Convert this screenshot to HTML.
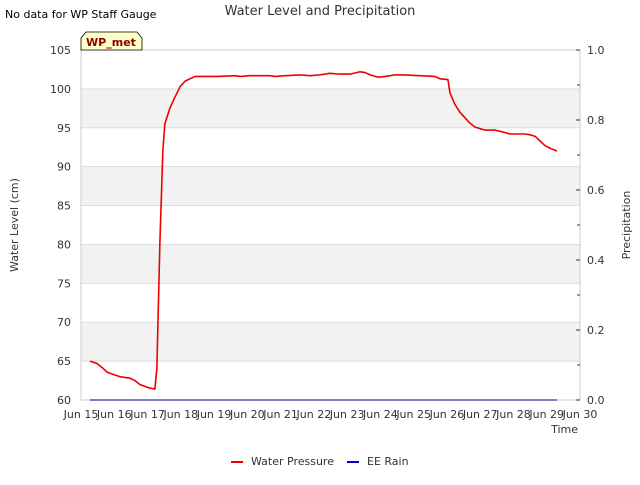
<!DOCTYPE html>
<html><head><meta charset="utf-8"><style>
body{margin:0;background:#fff;font-family:"Liberation Sans","DejaVu Sans",sans-serif}
</style></head><body>
<svg id="c" width="640" height="480" xmlns="http://www.w3.org/2000/svg" font-family="DejaVu Sans, Liberation Sans, sans-serif">
<text x="5" y="18" font-size="11" fill="#000">No data for WP Staff Gauge</text>
<text x="320" y="15" font-size="13" fill="#333" text-anchor="middle">Water Level and Precipitation</text>
<g id="bands"></g>
<rect x="81" y="50" width="499" height="350" fill="none" stroke="#ccc"/>
<g id="axes" font-size="11" fill="#333"></g>
<g id="series"></g>
<text x="18" y="225" font-size="11" fill="#333" text-anchor="middle" transform="rotate(-90 18 225)">Water Level (cm)</text>
<text x="630" y="225" font-size="11" fill="#333" text-anchor="middle" transform="rotate(-90 630 225)">Precipitation</text>
<text x="578" y="433" font-size="11" fill="#333" text-anchor="end">Time</text>
<g>
<path d="M81,50 L81,38 L86,32 L137,32 L142,38 L142,50 Z" fill="#ffffc8" stroke="#000" stroke-width="0.8"/>
<text x="111" y="46" font-size="11" font-weight="bold" fill="#8b0000" text-anchor="middle">WP_met</text>
</g>
<g>
<line x1="231" y1="462" x2="243" y2="462" stroke="#e00" stroke-width="2"/>
<text x="251" y="465" font-size="11" fill="#333">Water Pressure</text>
<line x1="347" y1="462" x2="359" y2="462" stroke="#00c" stroke-width="2"/>
<text x="367" y="465" font-size="11" fill="#333">EE Rain</text>
</g>
</svg>
<script>
const days=[15.27,15.48,15.63,15.78,15.96,16.17,16.47,16.62,16.77,17.01,17.22,17.28,17.37,17.46,17.52,17.67,17.83,17.98,18.13,18.28,18.43,19.12,19.63,19.78,20.08,20.68,20.83,21.13,21.58,21.88,22.18,22.48,22.78,23.09,23.39,23.54,23.69,23.93,24.14,24.44,24.74,25.19,25.64,25.79,26.03,26.09,26.24,26.39,26.54,26.69,26.84,26.99,27.14,27.44,27.65,27.89,28.35,28.50,28.65,28.80,28.95,29.09,29.31];
const level=[65.0,64.7,64.2,63.6,63.3,63.0,62.8,62.5,62.0,61.6,61.4,64,80,92,95.5,97.5,99,100.3,101,101.3,101.6,101.6,101.7,101.6,101.7,101.7,101.6,101.7,101.8,101.7,101.8,102,101.9,101.9,102.2,102.1,101.8,101.5,101.6,101.8,101.8,101.7,101.6,101.3,101.2,99.5,98,97,96.3,95.6,95.1,94.9,94.7,94.7,94.5,94.2,94.2,94.1,93.9,93.3,92.7,92.4,92.0];
const rainDays=[15.27,29.31];
const rain=[0,0];
const yTicks=[60,65,70,75,80,85,90,95,100,105];
const y2Ticks=[0,0.2,0.4,0.6,0.8,1.0];
const xTicks=[15,16,17,18,19,20,21,22,23,24,25,26,27,28,29,30];
const X=d=>81+(d-15)*499/15, Y=v=>400-(v-60)*350/45, Y2=v=>400-v*350;
const NS="http://www.w3.org/2000/svg";
function mk(t,a,p){const e=document.createElementNS(NS,t);for(const k in a)e.setAttribute(k,a[k]);p.appendChild(e);return e;}
const bands=document.getElementById('bands'),axes=document.getElementById('axes'),ser=document.getElementById('series');
for(let i=0;i<yTicks.length-1;i++){
 if(i%2==1){const r=mk('rect',{x:81,y:Y(yTicks[i+1]),width:499,height:Y(yTicks[i])-Y(yTicks[i+1]),fill:'#f2f2f2'},bands);
 
 }
 const g=mk('line',{x1:81,x2:580,y1:Y(yTicks[i]),y2:Y(yTicks[i]),stroke:'#ddd'},bands);
 
 
}
yTicks.forEach(v=>{const t=mk('text',{x:71,y:Y(v)+4,'text-anchor':'end'},axes);t.textContent=v;
 
 });
y2Ticks.forEach(v=>{const t=mk('text',{x:587,y:Y2(v)+4},axes);t.textContent=v.toFixed(1);
 
 
 mk('line',{x1:576,x2:580,y1:Y2(v),y2:Y2(v),stroke:'#333'},axes);
 if(v<1)mk('line',{x1:577,x2:580,y1:Y2(v+0.1),y2:Y2(v+0.1),stroke:'#333'},axes);});
xTicks.forEach(d=>{const t=mk('text',{x:X(d),y:418,'text-anchor':'middle'},axes);t.textContent='Jun '+d;
 
 });
const rl=mk('polyline',{points:rainDays.map((d,i)=>X(d)+','+Y2(rain[i])).join(' '),fill:'none',stroke:'#000080','stroke-width':1},ser);


const wl=mk('polyline',{points:days.map((d,i)=>X(d)+','+Y(level[i])).join(' '),fill:'none',stroke:'#e00','stroke-width':1.6,'stroke-linejoin':'round'},ser);


</script>
</body></html>
